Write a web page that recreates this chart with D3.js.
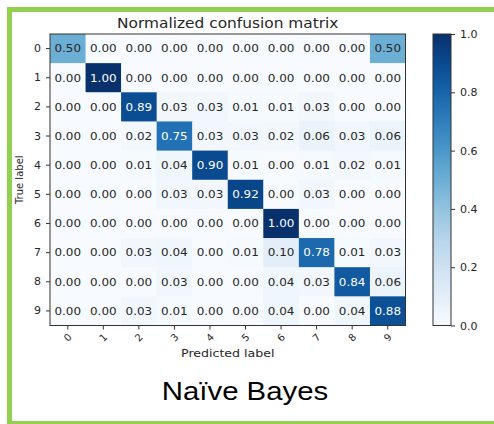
<!doctype html>
<html lang="en">
<head>
  <meta charset="utf-8">
  <script src="https://d3js.org/d3.v7.min.js"></script>
  <style>
    body { margin: 0; background: #fff; }
    text { font-family: "DejaVu Sans", sans-serif; fill: #262626; }
  </style>
</head>
<body>
  <script>
    var width = 494, height = 424;

    // class labels and normalized confusion matrix (rows = true, cols = predicted)
    var classes = ["0", "1", "2", "3", "4", "5", "6", "7", "8", "9"];
    var row0 = [0.50, 0.00, 0.00, 0.00, 0.00, 0.00, 0.00, 0.00, 0.00, 0.50];
    var row1 = [0.00, 1.00, 0.00, 0.00, 0.00, 0.00, 0.00, 0.00, 0.00, 0.00];
    var row2 = [0.00, 0.00, 0.89, 0.03, 0.03, 0.01, 0.01, 0.03, 0.00, 0.00];
    var row3 = [0.00, 0.00, 0.02, 0.75, 0.03, 0.03, 0.02, 0.06, 0.03, 0.06];
    var row4 = [0.00, 0.00, 0.01, 0.04, 0.90, 0.01, 0.00, 0.01, 0.02, 0.01];
    var row5 = [0.00, 0.00, 0.00, 0.03, 0.03, 0.92, 0.00, 0.03, 0.00, 0.00];
    var row6 = [0.00, 0.00, 0.00, 0.00, 0.00, 0.00, 1.00, 0.00, 0.00, 0.00];
    var row7 = [0.00, 0.00, 0.03, 0.04, 0.00, 0.01, 0.10, 0.78, 0.01, 0.03];
    var row8 = [0.00, 0.00, 0.00, 0.03, 0.00, 0.00, 0.04, 0.03, 0.84, 0.06];
    var row9 = [0.00, 0.00, 0.03, 0.01, 0.00, 0.00, 0.04, 0.00, 0.04, 0.88];
    var matrix = [row0, row1, row2, row3, row4, row5, row6, row7, row8, row9];
    var colorbarTicks = [0.0, 0.2, 0.4, 0.6, 0.8, 1.0];

    var svg = d3.select("body").append("svg")
        .attr("width", width)
        .attr("height", height);

    // green slide frame
    var green = "#92d050";
    svg.append("rect").attr("x", 7).attr("y", 7).attr("width", 5).attr("height", 417).attr("fill", green);
    svg.append("rect").attr("x", 7).attr("y", 7).attr("width", 487).attr("height", 5).attr("fill", green);
    svg.append("rect").attr("x", 7).attr("y", 421).attr("width", 487).attr("height", 3).attr("fill", green);

    var plotLeft = 50, plotTop = 34, plotW = 355.5, plotH = 291.5;
    var stretch = 1.14; // the picture is a bit wider than tall, so text looks wide

    var x = d3.scaleBand().domain(classes).range([plotLeft, plotLeft + plotW]);
    var y = d3.scaleBand().domain(classes).range([plotTop, plotTop + plotH]);
    var color = d3.scaleSequential(d3.interpolateBlues).domain([0, 1]);

    var cells = [];
    matrix.forEach(function(row, i) {
      row.forEach(function(v, j) {
        cells.push({ r: classes[i], c: classes[j], v: v });
      });
    });

    svg.append("g").selectAll("rect")
        .data(cells)
      .enter().append("rect")
        .attr("x", function(d) { return x(d.c); })
        .attr("y", function(d) { return y(d.r); })
        .attr("width", x.bandwidth() + 0.5)
        .attr("height", y.bandwidth() + 0.5)
        .attr("fill", function(d) { return color(d.v); });

    svg.append("g").selectAll("text")
        .data(cells)
      .enter().append("text")
        .attr("transform", function(d) {
          return "translate(" + (x(d.c) + x.bandwidth() / 2) + "," + (y(d.r) + y.bandwidth() / 2) + ") scale(" + stretch + ",1)";
        })
        .attr("dy", "0.36em")
        .attr("text-anchor", "middle")
        .style("font-size", "10.5px")
        .style("fill", function(d) { return d.v > 0.5 ? "#ffffff" : "#262626"; })
        .text(function(d) { return d.v.toFixed(2); });

    // frame
    svg.append("rect")
        .attr("x", plotLeft).attr("y", plotTop)
        .attr("width", plotW).attr("height", plotH)
        .attr("fill", "none").attr("stroke", "#333").attr("stroke-width", 1);

    // y axis
    var yAxis = svg.append("g")
        .attr("transform", "translate(" + plotLeft + ",0)")
        .call(d3.axisLeft(y).tickSize(4).tickPadding(5));
    yAxis.select(".domain").remove();
    yAxis.selectAll("text").style("font-size", "11px").style("font-family", "DejaVu Sans").attr("fill", "#262626");
    yAxis.selectAll("line").attr("stroke", "#333");

    // x axis
    var xAxis = svg.append("g")
        .attr("transform", "translate(0," + (plotTop + plotH) + ")")
        .call(d3.axisBottom(x).tickSize(4).tickPadding(4));
    xAxis.select(".domain").remove();
    xAxis.selectAll("line").attr("stroke", "#333");
    xAxis.selectAll("text")
        .style("font-size", "10px").style("font-family", "DejaVu Sans").attr("fill", "#262626")
        .attr("text-anchor", "middle")
        .attr("dy", "0.35em")
        .attr("y", 0)
        .attr("transform", "translate(0,12) rotate(-45)");

    svg.append("text")
        .attr("transform", "translate(" + (plotLeft + plotW / 2) + ",28) scale(" + stretch + ",1)")
        .attr("text-anchor", "middle")
        .style("font-size", "13.5px")
        .text("Normalized confusion matrix");

    svg.append("text")
        .attr("transform", "translate(" + (plotLeft + plotW / 2) + ",357) scale(1.2,1)")
        .attr("text-anchor", "middle")
        .style("font-size", "10.5px")
        .text("Predicted label");

    svg.append("text")
        .attr("transform", "translate(23," + (plotTop + plotH / 2) + ") rotate(-90)")
        .attr("text-anchor", "middle")
        .style("font-size", "10px")
        .text("True label");

    // colorbar
    var cbX = 433, cbW = 18;
    var cbScale = d3.scaleLinear().domain([0, 1]).range([plotTop + plotH, plotTop]);
    var defs = svg.append("defs");
    var grad = defs.append("linearGradient").attr("id", "cb")
        .attr("x1", 0).attr("y1", 1).attr("x2", 0).attr("y2", 0);
    d3.range(0, 1.01, 0.1).forEach(function(t) {
      grad.append("stop").attr("offset", t).attr("stop-color", color(t));
    });
    svg.append("rect")
        .attr("x", cbX).attr("y", plotTop)
        .attr("width", cbW).attr("height", plotH)
        .attr("fill", "url(#cb)")
        .attr("stroke", "#333").attr("stroke-width", 1);
    var cbAxis = svg.append("g")
        .attr("transform", "translate(" + (cbX + cbW) + ",0)")
        .call(d3.axisRight(cbScale).tickValues(colorbarTicks).tickFormat(d3.format(".1f")).tickSize(4).tickPadding(5));
    cbAxis.select(".domain").remove();
    cbAxis.selectAll("line").attr("stroke", "#333");
    cbAxis.selectAll("text").style("font-size", "11px").style("font-family", "DejaVu Sans").attr("fill", "#262626");

    // slide caption
    svg.append("text")
        .attr("transform", "translate(245,400) scale(1.13,1)")
        .attr("text-anchor", "middle")
        .style("font-family", "Liberation Sans, Arial, sans-serif")
        .style("font-size", "26px")
        .style("fill", "#000")
        .text("Naïve Bayes");
  </script>
</body>
</html>
